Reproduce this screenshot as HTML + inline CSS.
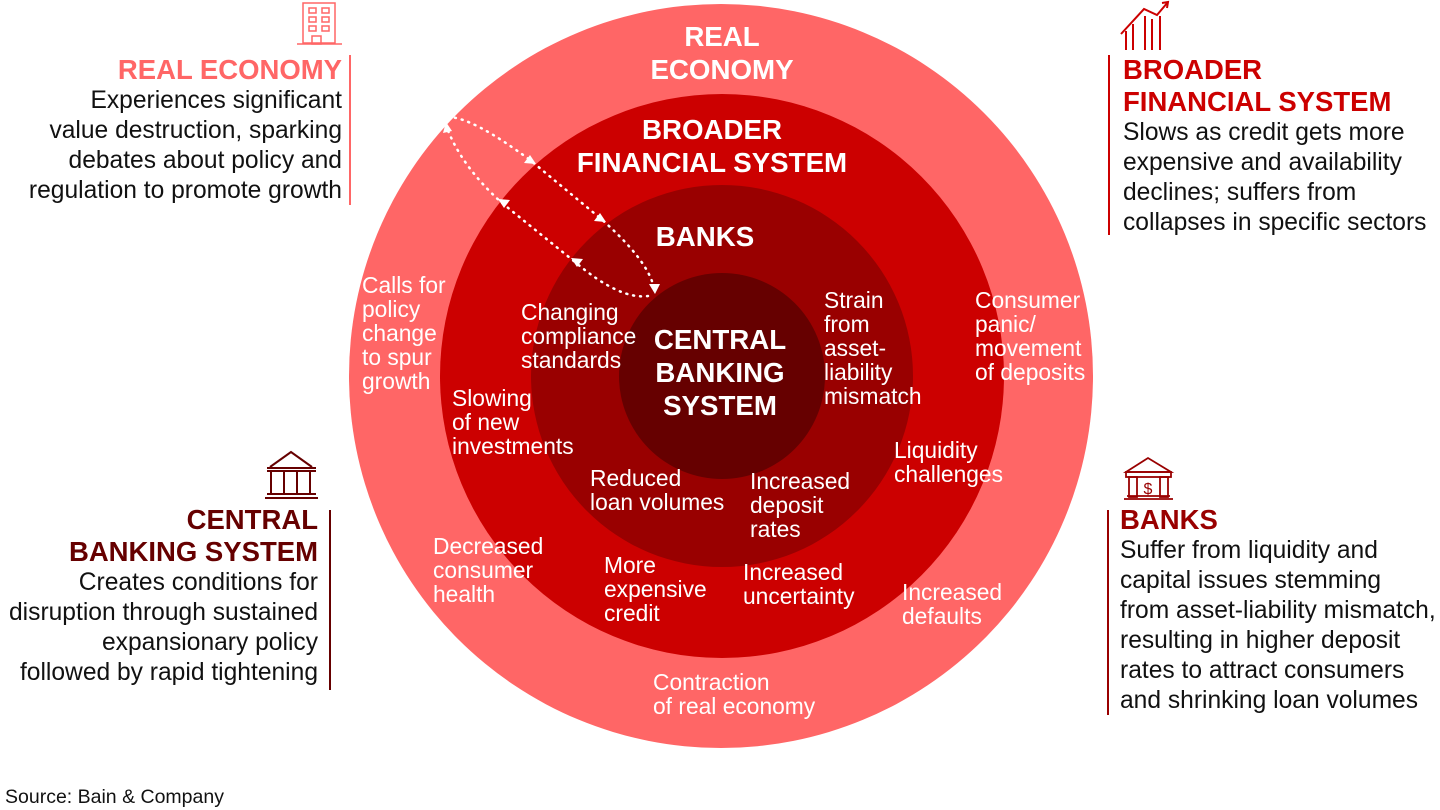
<!DOCTYPE html>
<html><head><meta charset="utf-8"><style>
body{margin:0;width:1440px;height:810px;background:#fff;position:relative;overflow:hidden;font-family:"Liberation Sans",Arial,sans-serif}
.a{position:absolute;white-space:nowrap}
.c{color:#fff;font-size:22.8px;line-height:24px}
.h{color:#fff;font-weight:bold;font-size:27.7px;line-height:33px;text-align:center;width:400px}
.side{font-size:24.6px;line-height:30px;color:#111}
.side b{font-size:27.5px;line-height:32px;display:block}
</style></head><body>
<svg class="a" style="left:0;top:0" width="1440" height="810">
<circle cx="721" cy="376" r="372" fill="#ff6666"/>
<circle cx="722" cy="376" r="282" fill="#cc0000"/>
<circle cx="722" cy="376" r="191" fill="#990000"/>
<circle cx="722" cy="376" r="103" fill="#660000"/>
<g fill="none" stroke="#fff" stroke-width="2.5" stroke-dasharray="1 6" stroke-linecap="round">
<path d="M448,117 Q472,117 530,160 L600,218 Q648,260 654,288"/>
<path d="M648,296 Q620,300 575,262 L502,203 Q462,167 447,128"/>
</g>
<g fill="#fff">
<polygon points="536,164 524,163 530,155"/>
<polygon points="606,222 594,221 600,213"/>
<polygon points="655,294 649,284 660,284"/>
<polygon points="571,258 583,259 577,267"/>
<polygon points="498,199 510,200 504,208"/>
<polygon points="446,122 443,133 452,131"/>
</g>
<line x1="350" y1="55" x2="350" y2="205" stroke="#ff6666" stroke-width="2"/>
<line x1="330" y1="510" x2="330" y2="690" stroke="#660000" stroke-width="2"/>
<line x1="1109" y1="55" x2="1109" y2="235" stroke="#cc0000" stroke-width="2"/>
<line x1="1108" y1="510" x2="1108" y2="715" stroke="#990000" stroke-width="2"/>
<g stroke="#ff6666" stroke-width="1.5" fill="none">
<rect x="303" y="3" width="32" height="40"/>
<line x1="297" y1="44" x2="342" y2="44"/>
<rect x="309" y="8" width="7" height="5"/><rect x="322" y="8" width="7" height="5"/>
<rect x="309" y="17" width="7" height="5"/><rect x="322" y="17" width="7" height="5"/>
<rect x="309" y="26" width="7" height="5"/><rect x="322" y="26" width="7" height="5"/>
<rect x="312" y="36" width="9" height="8"/>
</g>
<g stroke="#cc0000" stroke-width="2" fill="none">
<polyline points="1121,34 1144,9 1157,15 1168,2"/>
<polyline points="1162,3 1168,2 1167,8"/>
<line x1="1126" y1="31" x2="1126" y2="50"/><line x1="1133" y1="24" x2="1133" y2="50"/>
<line x1="1145" y1="16" x2="1145" y2="50"/><line x1="1152" y1="19" x2="1152" y2="50"/><line x1="1160" y1="16" x2="1160" y2="50"/>
</g>
<g stroke="#660000" stroke-width="2" fill="none">
<polyline points="270,467 291,452 312,467"/>
<line x1="267" y1="468" x2="316" y2="468"/><line x1="267" y1="471" x2="316" y2="471"/>
<line x1="271" y1="472" x2="271" y2="493"/><line x1="284" y1="472" x2="284" y2="493"/>
<line x1="297" y1="472" x2="297" y2="493"/><line x1="310" y1="472" x2="310" y2="493"/>
<line x1="267" y1="494" x2="316" y2="494"/><line x1="265" y1="498" x2="318" y2="498"/>
</g>
<g stroke="#990000" stroke-width="1.8" fill="none">
<polygon points="1126,472 1148,458 1171,472"/>
<rect x="1126" y="472" width="45" height="5"/>
<rect x="1129" y="477" width="8" height="20"/><rect x="1160" y="477" width="8" height="20"/>
<line x1="1124" y1="499" x2="1173" y2="499"/><line x1="1127" y1="496" x2="1170" y2="496"/>
</g>
<text x="1148" y="494" fill="#990000" font-size="16" text-anchor="middle" font-family="Liberation Sans">$</text>
</svg>

<div class="a h" style="left:522px;top:20px">REAL<br>ECONOMY</div>
<div class="a h" style="left:512px;top:113px">BROADER<br>FINANCIAL SYSTEM</div>
<div class="a h" style="left:505px;top:220px">BANKS</div>
<div class="a h" style="left:520px;top:323px">CENTRAL<br>BANKING<br>SYSTEM</div>

<div class="a c" style="left:362px;top:273px">Calls for<br>policy<br>change<br>to spur<br>growth</div>
<div class="a c" style="left:521px;top:300px">Changing<br>compliance<br>standards</div>
<div class="a c" style="left:824px;top:288px">Strain<br>from<br>asset-<br>liability<br>mismatch</div>
<div class="a c" style="left:975px;top:288px">Consumer<br>panic/<br>movement<br>of deposits</div>
<div class="a c" style="left:452px;top:386px">Slowing<br>of new<br>investments</div>
<div class="a c" style="left:894px;top:438px">Liquidity<br>challenges</div>
<div class="a c" style="left:590px;top:466px">Reduced<br>loan volumes</div>
<div class="a c" style="left:750px;top:469px">Increased<br>deposit<br>rates</div>
<div class="a c" style="left:433px;top:534px">Decreased<br>consumer<br>health</div>
<div class="a c" style="left:604px;top:553px">More<br>expensive<br>credit</div>
<div class="a c" style="left:743px;top:560px">Increased<br>uncertainty</div>
<div class="a c" style="left:902px;top:580px">Increased<br>defaults</div>
<div class="a c" style="left:653px;top:670px">Contraction<br>of real economy</div>

<div class="a side" style="right:1098px;top:54px;text-align:right"><b style="color:#ff6666">REAL ECONOMY</b>Experiences significant<br>value destruction, sparking<br>debates about policy and<br>regulation to promote growth</div>
<div class="a side" style="left:1123px;top:54px"><b style="color:#cc0000">BROADER<br>FINANCIAL SYSTEM</b>Slows as credit gets more<br>expensive and availability<br>declines; suffers from<br>collapses in specific sectors</div>
<div class="a side" style="right:1122px;top:504px;text-align:right"><b style="color:#660000">CENTRAL<br>BANKING SYSTEM</b>Creates conditions for<br>disruption through sustained<br>expansionary policy<br>followed by rapid tightening</div>
<div class="a side" style="left:1120px;top:504px"><b style="color:#990000">BANKS</b>Suffer from liquidity and<br>capital issues stemming<br>from asset-liability mismatch,<br>resulting in higher deposit<br>rates to attract consumers<br>and shrinking loan volumes</div>
<div class="a" style="left:5px;top:786px;font-size:19.5px;color:#111">Source: Bain &amp; Company</div>
</body></html>
